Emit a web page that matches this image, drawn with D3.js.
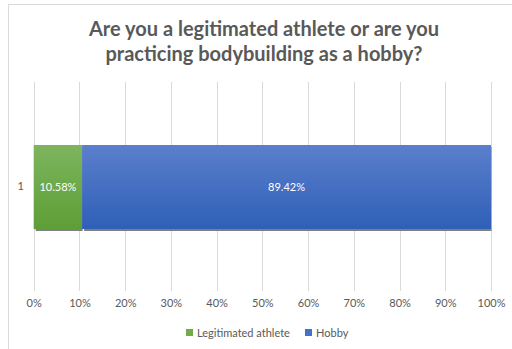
<!DOCTYPE html>
<html>
<head>
<meta charset="utf-8">
<script src="https://cdn.jsdelivr.net/npm/d3@7"></script>
<style>
  html, body { margin: 0; padding: 0; background: #fff; }
  svg { display: block; }
  text { font-family: Lato, "Open Sans", sans-serif; }
</style>
</head>
<body>
<svg id="chart" width="512" height="349"></svg>
<script>
// Survey answers, share of respondents (percent)
const categories = ["1"];
const seriesNames = ["Legitimated athlete", "Hobby"];
const athleteValues = [10.58];
const hobbyValues = [89.42];
const seriesColors = ["#70ad47", "#4472c4"];
const tickValues = [0, 10, 20, 30, 40, 50, 60, 70, 80, 90, 100];
const titleLines = ["Are you a legitimated athlete or are you", "practicing bodybuilding  as a hobby?"];

const svg = d3.select("#chart");
const W = 512, H = 349;

// chart frame
svg.append("rect")
  .attr("x", 8.5).attr("y", 4.5)
  .attr("width", W + 10).attr("height", H + 10)
  .attr("fill", "#fff").attr("stroke", "#d9d9d9");

// gradients for the bar fills
const defs = svg.append("defs");
const grads = [
  { id: "gGreen", top: "#7db55e", bottom: "#5e9e36" },
  { id: "gBlue", top: "#5b7fcc", bottom: "#2f5fb7" }
];
grads.forEach(g => {
  const lg = defs.append("linearGradient").attr("id", g.id)
    .attr("x1", 0).attr("y1", 0).attr("x2", 0).attr("y2", 1);
  lg.append("stop").attr("offset", "0%").attr("stop-color", g.top);
  lg.append("stop").attr("offset", "100%").attr("stop-color", g.bottom);
});

// title
svg.append("g").selectAll("text").data(titleLines).join("text")
  .attr("x", 264).attr("y", (d, i) => 36 + i * 25)
  .attr("text-anchor", "middle")
  .attr("font-size", 20).attr("font-weight", "bold")
  .attr("fill", "#595959")
  .text(d => d);

const x = d3.scaleLinear().domain([0, 100]).range([33.7, 491]);
const y = d3.scaleBand().domain(categories).range([82, 291]).paddingInner(0.4).paddingOuter(0.3);

// vertical gridlines
svg.append("g").selectAll("line").data(tickValues).join("line")
  .attr("x1", d => Math.round(x(d)) + 0.5).attr("x2", d => Math.round(x(d)) + 0.5)
  .attr("y1", 82).attr("y2", 291)
  .attr("stroke", "#d9d9d9").attr("stroke-width", 1);

// x axis tick labels
const xAxis = d3.axisBottom(x).tickValues(tickValues).tickFormat(d => d + "%").tickSize(0).tickPadding(0);
const gx = svg.append("g").attr("transform", "translate(0,299)").call(xAxis);
gx.select(".domain").remove();
gx.selectAll("text").attr("font-size", 11).attr("fill", "#595959")
  .attr("font-family", "Lato, sans-serif");

// category axis labels
const yAxis = d3.axisLeft(y).tickSize(0).tickPadding(0);
const gy = svg.append("g").attr("transform", "translate(24,0)").call(yAxis);
gy.select(".domain").remove();
gy.selectAll("text").attr("font-size", 11).attr("fill", "#595959")
  .attr("font-family", "Lato, sans-serif");

// stacked segments
const rows = categories.map((c, i) => ({ cat: c, athlete: athleteValues[i], hobby: hobbyValues[i] }));
const stack = d3.stack().keys(["athlete", "hobby"])(rows);

const bandTop = 145, bandH = 84;

stack.forEach((layer, li) => {
  const g = svg.append("g");
  // drop shadow under each segment
  g.selectAll("rect.shadow").data(layer).join("rect")
    .attr("class", "shadow")
    .attr("x", d => x(d[0]) + 2)
    .attr("y", d => bandTop + 2)
    .attr("width", d => x(d[1]) - x(d[0]) - 1.5)
    .attr("height", bandH)
    .attr("fill", "#7f7f7f");
  g.selectAll("rect.seg").data(layer).join("rect")
    .attr("class", "seg")
    .attr("x", d => x(d[0]))
    .attr("y", bandTop)
    .attr("width", d => x(d[1]) - x(d[0]))
    .attr("height", bandH)
    .attr("fill", `url(#${grads[li].id})`);
  g.selectAll("text").data(layer).join("text")
    .attr("x", d => (x(d[0]) + x(d[1])) / 2)
    .attr("y", bandTop + bandH / 2 + 4)
    .attr("text-anchor", "middle")
    .attr("font-size", 11).attr("fill", "#ffffff")
    .text(d => (d[1] - d[0]).toFixed(2) + "%");
});

// legend
const legendItems = [
  { name: seriesNames[0], color: seriesColors[0], x: 186 },
  { name: seriesNames[1], color: seriesColors[1], x: 305 }
];
const lg = svg.append("g");
legendItems.forEach(it => {
  lg.append("rect").attr("x", it.x).attr("y", 329).attr("width", 7).attr("height", 7).attr("fill", it.color);
  lg.append("text").attr("x", it.x + 11).attr("y", 337)
    .attr("font-size", 11).attr("fill", "#595959").text(it.name);
});
</script>
</body>
</html>
